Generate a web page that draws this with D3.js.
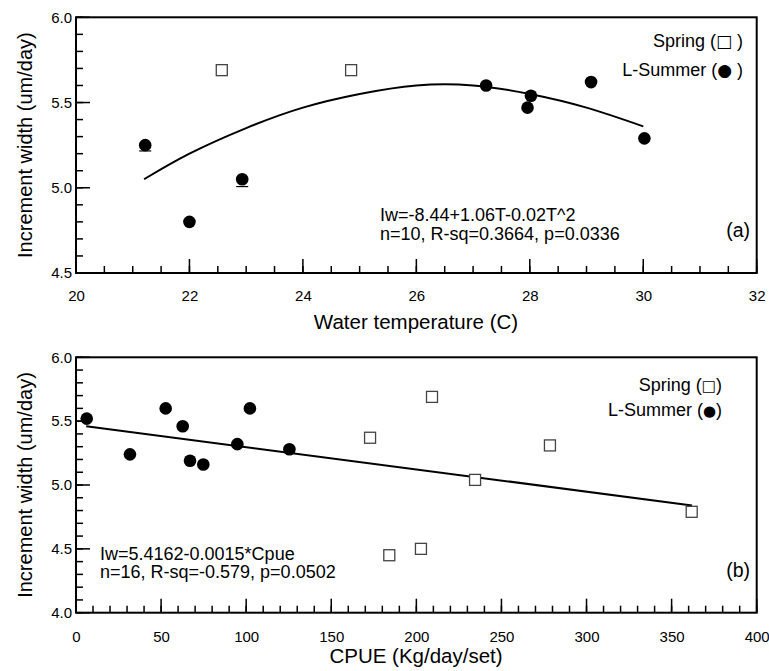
<!DOCTYPE html>
<html>
<head>
<meta charset="utf-8">
<script src="https://cdn.jsdelivr.net/npm/d3@7"></script>
<style>
body { margin: 0; background: #fff; }
text { font-family: "Liberation Sans", Arial, sans-serif; fill: #000; }
</style>
</head>
<body>
<div id="chart"></div>
<script>
// panel (a): increment width vs water temperature
var springTemp = [22.57, 24.85];
var springIwA = [5.69, 5.69];
var summerTemp = [21.22, 22.0, 22.93, 27.23, 28.02, 27.96, 29.08, 30.02];
var summerIwA = [5.25, 4.80, 5.05, 5.60, 5.54, 5.47, 5.62, 5.29];
var summerErrA = [0.034, 0, 0.043, 0, 0, 0, 0, 0];
var fitTemp = [21.2, 22, 23, 24, 25, 26, 27, 28, 29, 30];
var fitIwA = [5.05, 5.20, 5.35, 5.47, 5.55, 5.60, 5.60, 5.55, 5.47, 5.36];
var xTicksA = [20, 22, 24, 26, 28, 30, 32];
var yTicksA = [4.5, 5.0, 5.5, 6.0];

// panel (b): increment width vs CPUE
var springCpue = [172.8, 184.1, 209.2, 202.7, 234.5, 278.5, 361.8];
var springIwB = [5.37, 4.45, 5.69, 4.50, 5.04, 5.31, 4.79];
var summerCpue = [6.3, 31.7, 52.7, 62.7, 67.0, 74.8, 94.8, 102.2, 125.4];
var summerIwB = [5.52, 5.24, 5.60, 5.46, 5.19, 5.16, 5.32, 5.60, 5.28];
var fitCpue = [6, 362];
var fitIwB = [5.46, 4.84];
var xTicksB = [0, 50, 100, 150, 200, 250, 300, 350, 400];
var yTicksB = [4.0, 4.5, 5.0, 5.5, 6.0];

var width = 769, height = 671;
var svg = d3.select("#chart").append("svg")
    .attr("width", width)
    .attr("height", height);

var font = '"Liberation Sans", Arial, sans-serif';

function drawPanel(p) {
    var x = d3.scaleLinear().domain(p.xDomain).range([76, 756.7]);
    var y = d3.scaleLinear().domain(p.yDomain).range([p.bottom, p.top]);
    var g = svg.append("g");

    g.append("rect")
        .attr("x", 76).attr("y", p.top)
        .attr("width", 680.7).attr("height", p.bottom - p.top)
        .attr("fill", "none").attr("stroke", "#000").attr("stroke-width", 2);

    // inward tick marks
    var tk = g.append("g").attr("stroke", "#000").attr("stroke-width", 1.5);
    tk.selectAll(".xm").data(p.xMinor).join("line").attr("class", "xm")
        .attr("x1", d => x(d)).attr("x2", d => x(d))
        .attr("y1", p.bottom).attr("y2", p.bottom - 7);
    tk.selectAll(".xM").data(p.xTicks).join("line").attr("class", "xM")
        .attr("x1", d => x(d)).attr("x2", d => x(d))
        .attr("y1", p.bottom).attr("y2", p.bottom - 14);
    tk.selectAll(".ym").data(p.yMinor).join("line").attr("class", "ym")
        .attr("y1", d => y(d)).attr("y2", d => y(d))
        .attr("x1", 76).attr("x2", 83);
    tk.selectAll(".yM").data(p.yTicks).join("line").attr("class", "yM")
        .attr("y1", d => y(d)).attr("y2", d => y(d))
        .attr("x1", 76).attr("x2", 90);

    // tick labels from d3 axes
    var ax = g.append("g").attr("transform", "translate(0," + p.bottom + ")")
        .call(d3.axisBottom(x).tickValues(p.xTicks).tickSize(0).tickPadding(p.xPad)
            .tickFormat(d3.format("d")));
    var ay = g.append("g").attr("transform", "translate(76,0)")
        .call(d3.axisLeft(y).tickValues(p.yTicks).tickSize(0).tickPadding(4)
            .tickFormat(d3.format(".1f")));
    [ax, ay].forEach(function(a) {
        a.select(".domain").remove();
        a.selectAll(".tick line").remove();
        a.selectAll(".tick text").attr("font-size", 15).attr("font-family", font).attr("fill", "#000");
    });

    // fit line
    var line = d3.line()
        .x(d => x(d[0])).y(d => y(d[1]))
        .curve(d3.curveNatural);
    g.append("path")
        .datum(d3.zip(p.fitX, p.fitY))
        .attr("d", line)
        .attr("fill", "none").attr("stroke", "#000").attr("stroke-width", 2);

    // error bars (only the lower caps show below the dots)
    if (p.summerErr) {
        var errs = d3.zip(p.summerX, p.summerY, p.summerErr).filter(d => d[2] > 0);
        g.selectAll(".err").data(errs).join("line").attr("class", "err")
            .attr("x1", d => x(d[0]) - 6).attr("x2", d => x(d[0]) + 6)
            .attr("y1", d => y(d[1] - d[2])).attr("y2", d => y(d[1] - d[2]))
            .attr("stroke", "#000").attr("stroke-width", 1.2);
    }

    g.selectAll(".sq").data(d3.zip(p.springX, p.springY)).join("rect").attr("class", "sq")
        .attr("x", d => x(d[0]) - 5.5).attr("y", d => y(d[1]) - 5.5)
        .attr("width", 11).attr("height", 11)
        .attr("fill", "#fff").attr("stroke", "#444").attr("stroke-width", 1.3);

    g.selectAll(".dot").data(d3.zip(p.summerX, p.summerY)).join("circle").attr("class", "dot")
        .attr("cx", d => x(d[0])).attr("cy", d => y(d[1]))
        .attr("r", 6.3).attr("fill", "#000");

    // axis titles
    g.append("text")
        .attr("x", 416).attr("y", p.xTitleY)
        .attr("text-anchor", "middle").attr("font-size", 20.5)
        .text(p.xTitle);
    g.append("text")
        .attr("transform", "translate(32," + ((p.top + p.bottom) / 2) + ") rotate(-90)")
        .attr("text-anchor", "middle").attr("font-size", 20)
        .text("Increment width (um/day)");

    // legend: label, symbol glyph, closing text
    p.legText.forEach(function(s, i) {
        var t = g.append("text")
            .attr("x", p.legX).attr("y", p.legY[i])
            .attr("text-anchor", "end").attr("font-size", 18);
        t.append("tspan").text(s[0]);
        t.append("tspan").attr("font-family", "DejaVu Sans").attr("font-size", p.symSize).text(s[1]);
        t.append("tspan").text(s[2]);
    });

    // equation
    p.eq.forEach(function(s, i) {
        g.append("text")
            .attr("x", p.eqX).attr("y", p.eqY[i])
            .attr("font-size", 18)
            .text(s);
    });
    g.append("text")
        .attr("x", 750).attr("y", p.labelY)
        .attr("text-anchor", "end").attr("font-size", 19.5)
        .text(p.label);
}

drawPanel({
    xDomain: [20, 32], yDomain: [4.5, 6.0], top: 17.3, bottom: 273,
    xTicks: xTicksA, yTicks: yTicksA, xPad: 17,
    xMinor: d3.range(20, 32.01, 0.5), yMinor: d3.range(4.5, 6.01, 0.1),
    springX: springTemp, springY: springIwA,
    summerX: summerTemp, summerY: summerIwA, summerErr: summerErrA,
    fitX: fitTemp, fitY: fitIwA,
    xTitle: "Water temperature (C)", xTitleY: 329,
    legX: 743, legY: [47, 76], symSize: 17,
    legText: [["Spring (", "\u25A1", " )"], ["L-Summer (", "\u25CF", " )"]],
    eq: ["Iw=-8.44+1.06T-0.02T^2", "n=10, R-sq=0.3664, p=0.0336"],
    eqX: 380, eqY: [221, 240],
    label: "(a)", labelY: 237
});

drawPanel({
    xDomain: [0, 400], yDomain: [4.0, 6.0], top: 357.3, bottom: 612.7,
    xTicks: xTicksB, yTicks: yTicksB, xPad: 19,
    xMinor: d3.range(0, 400.1, 10), yMinor: d3.range(4.0, 6.01, 0.1),
    springX: springCpue, springY: springIwB,
    summerX: summerCpue, summerY: summerIwB, summerErr: null,
    fitX: fitCpue, fitY: fitIwB,
    xTitle: "CPUE (Kg/day/set)", xTitleY: 663,
    legX: 722, legY: [391, 416], symSize: 15,
    legText: [["Spring (", "\u25A1", ")"], ["L-Summer (", "\u25CF", ")"]],
    eq: ["Iw=5.4162-0.0015*Cpue", "n=16, R-sq=-0.579, p=0.0502"],
    eqX: 100, eqY: [560, 578],
    label: "(b)", labelY: 577
});
</script>
</body>
</html>
